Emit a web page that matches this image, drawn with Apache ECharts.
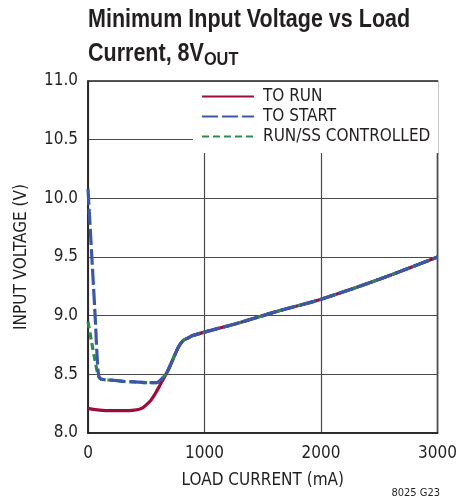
<!DOCTYPE html>
<html>
<head>
<meta charset="utf-8">
<script src="https://cdn.jsdelivr.net/npm/echarts@6/dist/echarts.min.js"></script>
<style>
  html, body { margin: 0; padding: 0; background: #fff; }
  #chart { width: 460px; height: 502px; }
</style>
</head>
<body>
<div id="chart"></div>
<script>
// Load current (mA) and minimum input voltage (V) for each curve.
// All three curves coincide above ~680 mA.
const sharedCurrent = [680, 730, 780, 820, 860, 900, 1000, 1300, 1600, 2000, 2500, 3000];
const sharedVoltage = [8.52, 8.63, 8.74, 8.79, 8.81, 8.83, 8.86, 8.94, 9.03, 9.14, 9.31, 9.50];

const runCurrent = [0, 100, 200, 300, 400, 460, 500, 540, 580, 630];
const runVoltage = [8.21, 8.195, 8.19, 8.19, 8.195, 8.21, 8.24, 8.28, 8.34, 8.43];

const startCurrent = [0, 30, 60, 80, 92, 110, 200, 300, 400, 500, 590, 620, 650];
const startVoltage = [10.08, 9.55, 9.02, 8.62, 8.49, 8.46, 8.45, 8.44, 8.435, 8.43, 8.43, 8.45, 8.48];

const ssCurrent = [0, 30, 60, 88, 110, 200, 300, 400, 500, 590, 620, 650];
const ssVoltage = [8.95, 8.78, 8.62, 8.49, 8.46, 8.45, 8.44, 8.435, 8.43, 8.43, 8.45, 8.48];

const xTicks = [0, 1000, 2000, 3000];
const yTicks = [8.0, 8.5, 9.0, 9.5, 10.0, 10.5, 11.0];

const seriesNames = ['TO RUN', 'TO START', 'RUN/SS CONTROLLED'];

function pairs(xs, ys) {
  const cx = xs.concat(sharedCurrent);
  const cy = ys.concat(sharedVoltage);
  return cx.map((x, i) => [x, cy[i]]);
}

const FONT = '"Liberation Sans Narrow", "DejaVu Sans Condensed", "Liberation Sans", sans-serif';
const TITLE_FONT = '"Liberation Sans", Arial, sans-serif';
const INK = '#231f20';

const chart = echarts.init(document.getElementById('chart'), null, { renderer: 'canvas' });

chart.setOption({
  animation: false,
  backgroundColor: '#fff',
  textStyle: { fontFamily: FONT },
  grid: {
    left: 88, right: 20, top: 81, bottom: 69,
    show: true,
    borderColor: INK,
    borderWidth: 1.5
  },
  legend: {
    orient: 'vertical',
    left: 193,
    top: 82,
    padding: [6, 8, 8, 8],
    itemGap: 3,
    itemWidth: 52,
    itemHeight: 17,
    backgroundColor: '#fff',
    data: seriesNames,
    itemStyle: { opacity: 0 },
    textStyle: { fontFamily: FONT, fontSize: 17, color: INK, padding: [0, 0, 0, 4] }
  },
  xAxis: {
    type: 'value',
    min: 0, max: 3000, interval: 1000,
    name: 'LOAD CURRENT (mA)',
    nameLocation: 'middle',
    nameGap: 39,
    nameTextStyle: { fontFamily: FONT, fontSize: 17, color: INK },
    axisLine: { show: true, lineStyle: { color: INK, width: 1.5 } },
    axisTick: { show: false },
    axisLabel: {
      fontFamily: FONT, fontSize: 17, color: INK, margin: 12,
      formatter: v => xTicks.includes(v) ? String(v) : ''
    },
    splitLine: { show: true, lineStyle: { color: '#4a4a4a', width: 1.2 } }
  },
  yAxis: {
    type: 'value',
    min: 8, max: 11, interval: 0.5,
    name: 'INPUT VOLTAGE (V)',
    nameLocation: 'middle',
    nameGap: 58,
    nameTextStyle: { fontFamily: FONT, fontSize: 17, color: INK },
    axisLine: { show: true, lineStyle: { color: INK, width: 1.5 } },
    axisTick: { show: false },
    axisLabel: {
      fontFamily: FONT, fontSize: 17, color: INK, margin: 10,
      formatter: v => yTicks.find(t => Math.abs(t - v) < 1e-9) !== undefined ? v.toFixed(1) : ''
    },
    splitLine: { show: true, lineStyle: { color: '#4a4a4a', width: 1.2 } }
  },
  series: [
    {
      name: seriesNames[0], type: 'line', showSymbol: false, symbol: 'none',
      smooth: 0.3, z: 2,
      data: pairs(runCurrent, runVoltage),
      itemStyle: { color: '#9b0d3a' },
      lineStyle: { color: '#9b0d3a', width: 3.2 }
    },
    {
      name: seriesNames[2], type: 'line', showSymbol: false, symbol: 'none',
      smooth: 0.3, z: 3,
      data: pairs(ssCurrent, ssVoltage),
      itemStyle: { color: '#2e8b4e' },
      lineStyle: { color: '#2e8b4e', width: 3.2, type: [7, 4] }
    },
    {
      name: seriesNames[1], type: 'line', showSymbol: false, symbol: 'none',
      smooth: 0.3, z: 4,
      data: pairs(startCurrent, startVoltage),
      itemStyle: { color: '#3b58a8' },
      lineStyle: { color: '#3b58a8', width: 3.2, type: [16, 4] }
    }
  ],
  graphic: [
    // Condensed bold title, two lines
    {
      type: 'text',
      x: 88, y: 8,
      scaleX: 0.86,
      style: {
        text: 'Minimum Input Voltage vs Load',
        font: 'bold 25px ' + TITLE_FONT,
        fill: INK,
        verticalAlign: 'top'
      }
    },
    {
      type: 'text',
      x: 88, y: 39,
      scaleX: 0.86,
      style: {
        text: 'Current, 8V{sub|OUT}',
        font: 'bold 25px ' + TITLE_FONT,
        fill: INK,
        verticalAlign: 'top',
        rich: {
          sub: {
            font: 'bold 19px ' + TITLE_FONT,
            fill: INK,
            padding: [11, 0, 0, 0]
          }
        }
      }
    },
    {
      type: 'text',
      right: 20,
      bottom: 3,
      style: { text: '8025 G23', font: '11px ' + FONT, fill: INK }
    }
  ]
});
</script>
</body>
</html>
